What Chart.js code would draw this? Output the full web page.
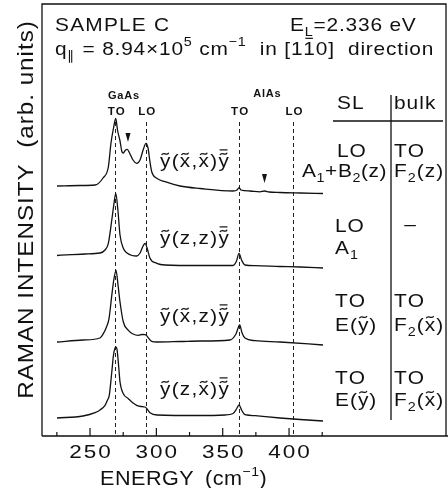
<!DOCTYPE html>
<html>
<head>
<meta charset="utf-8">
<script src="https://cdn.jsdelivr.net/npm/chart.js@4/dist/chart.umd.min.js"></script>
<style>
  html, body { margin: 0; padding: 0; background: #fff; }
</style>
</head>
<body>
<canvas id="raman" width="448" height="488"></canvas>
<script>
// Raman spectra of sample C in four scattering geometries, stacked with offsets
const modeLines = [269, 292, 362, 403];          // GaAs TO, GaAs LO, AlAs TO, AlAs LO (cm-1)
const modeNames = ['TO', 'LO', 'TO', 'LO'];
const xTicks = [225, 250, 275, 300, 325, 350, 375, 400, 425];
const xTickLabels = [250, 300, 350, 400];
const offsets = [243, 168, 91, 15];              // vertical shift of each trace

// y~(x~,x~)y~-
const energy1 = [225.1, 242.5, 253.8, 259.8, 263.8, 265.8, 267.7, 269.4, 270.7, 272.6, 274.0, 275.0,
  276.8, 278.1, 279.8, 282.4, 285.2, 287.7, 290.0, 292.2, 293.7, 295.2, 296.5, 300.3, 306.5, 317.8,
  332.9, 357.8, 360.8, 362.3, 363.8, 370.6, 378.0, 381.5, 385.0, 393.2, 408.3, 425.6];
const counts1 = [7, 7.5, 8, 15, 26, 50, 65, 74.7, 63, 52, 41.5, 40,
  43, 43.7, 40, 33, 29.7, 33, 43, 49.7, 45, 31, 21.3, 14.7, 11.3, 7,
  4.5, 2, 3, 5.3, 3, 2, 1.2, 2, 1, 0.5, 0, -0.5];

// y~(z,z)y~-
const energy2 = [225.1, 246.2, 257.5, 261.3, 263.8, 266.4, 267.9, 269.4, 271.0, 272.6, 275.1, 277.9,
  281.7, 285.2, 287.7, 290.0, 291.5, 293.0, 295.2, 300.3, 306.5, 332.9, 357.8, 360.4, 362.3, 364.2,
  366.8, 374.4, 393.2, 408.3, 425.6];
const counts2 = [12.5, 14, 15, 18, 24.7, 48, 63, 74.7, 58, 33, 19.7, 15,
  12.5, 12, 15, 22, 24.7, 20, 9.7, 4.7, 3, 2.5, 2.5, 7, 14.7, 8,
  3, 2.3, 1.5, 1, 0];

// y~(x~,z)y~-
const energy3 = [225.1, 244.7, 257.5, 260.0, 262.1, 264.3, 266.4, 267.9, 269.6, 271.1, 272.6, 275.1,
  278.9, 282.4, 286.4, 289.2, 291.5, 296.5, 300.5, 317.8, 332.9, 355.5, 360.0, 362.8, 364.6, 366.8,
  374.4, 393.2, 425.6];
const counts3 = [3, 5, 7, 11.3, 17, 26.3, 49.7, 65, 74.7, 60, 43, 23,
  14.7, 11, 9.7, 10.5, 10.3, 3.7, 3, 3.5, 4, 5, 11, 20, 12, 7,
  4.3, 3, 0];

// y~(z,x~)y~-
const energy4 = [225.1, 244.7, 253.8, 257.5, 261.3, 263.2, 264.5, 266.4, 267.7, 269.4, 270.4, 271.5,
  272.6, 275.1, 278.9, 282.4, 285.2, 288.4, 291.5, 293.0, 295.2, 300.5, 332.9, 351.8, 357.8, 360.4,
  362.3, 364.2, 366.1, 368.3, 374.4, 393.2, 408.3, 425.6];
const counts4 = [3, 5, 8.3, 11, 15.7, 21, 25.7, 49, 66, 74, 71, 56,
  39, 27.3, 22.3, 18, 15.7, 14.5, 14, 12, 8.3, 6, 5.5, 6, 7.5, 12,
  16, 11, 7, 6, 5.3, 3, 1.5, 0];

// small arrows marking extra features
const arrowEnergy = [278.6, 381.5];
const arrowLevel = [294, 253];

const FONT = '"Liberation Sans", Arial, Helvetica, sans-serif';
const INK = '#111';

// draws a string with horizontal stretch hs and extra spacing sp, returns advance
function put(ctx, s, x, y, size, hs, sp, bold) {
  ctx.font = (bold ? 'bold ' : '') + size + 'px ' + FONT;
  ctx.letterSpacing = '0px';
  ctx.textAlign = 'left';
  ctx.textBaseline = 'alphabetic';
  let cx = x;
  for (const ch of s) {
    const w = ctx.measureText(ch).width * hs;
    ctx.save();
    ctx.translate(cx, y);
    ctx.scale(hs, 1);
    ctx.fillText(ch, 0, 0);
    ctx.restore();
    cx += w + sp;
  }
  return cx - x;
}

function widthOf(ctx, s, size, hs, sp, bold) {
  ctx.font = (bold ? 'bold ' : '') + size + 'px ' + FONT;
  let w = 0;
  for (const ch of s) w += ctx.measureText(ch).width * hs + sp;
  return w - sp;
}

function putC(ctx, s, cx, y, size, hs, sp, bold) {
  put(ctx, s, cx - widthOf(ctx, s, size, hs, sp, bold) / 2, y, size, hs, sp, bold);
}

function tilde(ctx, cx, cy, hw) {
  ctx.beginPath();
  ctx.moveTo(cx - hw, cy + 1.2);
  ctx.bezierCurveTo(cx - hw * 0.4, cy - 3.2, cx + hw * 0.4, cy + 3.2, cx + hw, cy - 1.2);
  ctx.stroke();
}

function bar(ctx, cx, cy, hw) {
  ctx.beginPath();
  ctx.moveTo(cx - hw, cy);
  ctx.lineTo(cx + hw, cy);
  ctx.stroke();
}

// runs of text with sub/superscripts and tilde / bar accents
function rich(ctx, x, y, size, hs, sp, parts) {
  ctx.strokeStyle = INK;
  ctx.lineWidth = 1.2;
  for (const [s, kind] of parts) {
    let fs = size, dy = 0;
    if (kind === 'sub') { fs = Math.round(size * 0.66); dy = size * 0.28; }
    if (kind === 'sup') { fs = Math.round(size * 0.66); dy = -size * 0.45; }
    const w = put(ctx, s, x, y + dy, fs, hs, sp);
    const cx = x + (w - sp) / 2;
    if (kind === 't' || kind === 'tb') {
      const ty = y - size * 0.53 - size * 0.2;
      tilde(ctx, cx, ty, size * 0.2);
      if (kind === 'tb') bar(ctx, cx, ty - size * 0.22, size * 0.22);
    }
    if (kind === 'b') bar(ctx, cx, y - size * 0.72 - 3, size * 0.2);
    x += w;
  }
  return x;
}

const decor = {
  id: 'decor',
  beforeDatasetsDraw(chart) {
    const ctx = chart.ctx, xs = chart.scales.x, ys = chart.scales.y;
    ctx.save();
    ctx.strokeStyle = '#222';
    ctx.lineWidth = 1;
    ctx.setLineDash([4, 3]);
    const top = ys.getPixelForValue(314);
    for (const e of modeLines) {
      const x = Math.round(xs.getPixelForValue(e)) + 0.5;
      ctx.beginPath();
      ctx.moveTo(x, top);
      ctx.lineTo(x, chart.chartArea.bottom);
      ctx.stroke();
    }
    ctx.restore();
  },
  afterDraw(chart) {
    const ctx = chart.ctx, xs = chart.scales.x, ys = chart.scales.y;
    const a = chart.chartArea;
    ctx.save();
    ctx.fillStyle = INK;
    ctx.strokeStyle = INK;

    // frame
    ctx.lineWidth = 1.3;
    ctx.beginPath();
    ctx.moveTo(a.left, a.bottom);
    ctx.lineTo(a.left, a.top);
    ctx.lineTo(a.right, a.top);
    ctx.lineTo(a.right, a.bottom);
    ctx.moveTo(a.left, a.bottom);
    ctx.lineTo(chart.width, a.bottom);
    ctx.stroke();

    // inward ticks
    ctx.lineWidth = 1.2;
    for (const t of xTicks) {
      const x = xs.getPixelForValue(t);
      const len = xTickLabels.includes(t) ? 8 : 4;
      ctx.beginPath();
      ctx.moveTo(x, a.bottom);
      ctx.lineTo(x, a.bottom - len);
      ctx.stroke();
    }
    for (const t of xTickLabels) putC(ctx, String(t), xs.getPixelForValue(t), 458, 18, 1.25, 2);

    // axis titles
    put(ctx, 'ENERGY', 100, 485, 20, 1.08, 0.5);
    rich(ctx, 205, 485, 20, 1.08, 0.5, [['(cm', ''], ['\u22121', 'sup'], [')', '']]);
    ctx.save();
    ctx.translate(33, 210);
    ctx.rotate(-Math.PI / 2);
    putC(ctx, 'RAMAN INTENSITY  (arb. units)', 0, 0, 22, 1.1, 1);
    ctx.restore();

    // header lines
    put(ctx, 'SAMPLE C', 55, 31, 19, 1.1, 1.2);
    rich(ctx, 290, 31, 19, 1.1, 0.8, [['E', ''], ['L', 'sub'], ['=2.336 eV', '']]);
    rich(ctx, 55, 55, 19, 1.1, 0.8, [['q', ''], ['\u2225', 'sub'], [' = 8.94\u00d710', ''], ['5', 'sup'],
      [' cm', ''], ['\u22121', 'sup'], ['  in [1', ''], ['1', 'b'], ['0]  direction', '']]);

    // phonon labels above the dashed lines
    putC(ctx, 'GaAs', 123.5, 99, 11, 1.0, 0.8, true);
    putC(ctx, 'AlAs', 267, 97, 11, 1.0, 0.8, true);
    modeLines.forEach((e, i) => putC(ctx, modeNames[i], xs.getPixelForValue(e) + 1, 114.5, 11, 1.05, 1, true));

    // scattering geometry labels
    const geoms = [
      [167, [['y', 't'], ['(', ''], ['x', 't'], [',', ''], ['x', 't'], [')', ''], ['y', 'tb']]],
      [244, [['y', 't'], ['(z,z)', ''], ['y', 'tb']]],
      [322, [['y', 't'], ['(', ''], ['x', 't'], [',z)', ''], ['y', 'tb']]],
      [395, [['y', 't'], ['(z,', ''], ['x', 't'], [')', ''], ['y', 'tb']]]
    ];
    for (const [y, parts] of geoms) rich(ctx, 160, y, 18, 1.15, 1.3, parts);

    // arrows
    arrowEnergy.forEach((e, i) => {
      const x = xs.getPixelForValue(e), y = ys.getPixelForValue(arrowLevel[i]);
      ctx.beginPath();
      ctx.moveTo(x - 2.5, y - 9);
      ctx.lineTo(x + 2.5, y - 9);
      ctx.lineTo(x, y);
      ctx.closePath();
      ctx.fill();
    });

    // selection-rule table
    ctx.lineWidth = 1.3;
    ctx.beginPath();
    ctx.moveTo(391, 95);
    ctx.lineTo(391, 420);
    ctx.moveTo(333, 121);
    ctx.lineTo(443, 121);
    ctx.stroke();
    const T = 19, H = 1.1, S = 1;
    put(ctx, 'SL', 337, 109, T, H, S);
    put(ctx, 'bulk', 394, 109, T, H, S);
    put(ctx, 'LO', 337, 157, T, H, S);
    put(ctx, 'TO', 394, 157, T, H, S);
    rich(ctx, 302, 177, T, H, 0.6, [['A', ''], ['1', 'sub'], ['+B', ''], ['2', 'sub'], ['(z)', '']]);
    rich(ctx, 394, 177, T, H, S, [['F', ''], ['2', 'sub'], ['(z)', '']]);
    put(ctx, 'LO', 335, 232, T, H, S);
    putC(ctx, '\u2013', 410, 230, T, H, 0);
    rich(ctx, 335, 254, T, H, S, [['A', ''], ['1', 'sub']]);
    [[307, 331], [384, 406]].forEach(([y1, y2]) => {
      put(ctx, 'TO', 335, y1, T, H, S);
      put(ctx, 'TO', 394, y1, T, H, S);
      rich(ctx, 335, y2, T, H, S, [['E(', ''], ['y', 't'], [')', '']]);
      rich(ctx, 394, y2, T, H, S, [['F', ''], ['2', 'sub'], ['(', ''], ['x', 't'], [')', '']]);
    });
    ctx.restore();
  }
};

const traces = [[energy1, counts1], [energy2, counts2], [energy3, counts3], [energy4, counts4]];
const datasets = traces.map(([e, c], i) => ({
  data: e.map((v, k) => ({ x: v, y: c[k] + offsets[i] })),
  borderColor: INK,
  borderWidth: 1.3,
  pointRadius: 0,
  fill: false,
  cubicInterpolationMode: 'monotone'
}));

new Chart(document.getElementById('raman'), {
  type: 'line',
  data: { datasets },
  options: {
    responsive: false,
    animation: false,
    devicePixelRatio: 1,
    layout: { padding: { left: 42, top: 4, right: 2, bottom: 52 } },
    plugins: { legend: { display: false }, tooltip: { enabled: false } },
    scales: {
      x: { type: 'linear', min: 213.8, max: 518.3, display: false },
      y: { min: 0, max: 432, display: false }
    }
  },
  plugins: [decor]
});
</script>
</body>
</html>
